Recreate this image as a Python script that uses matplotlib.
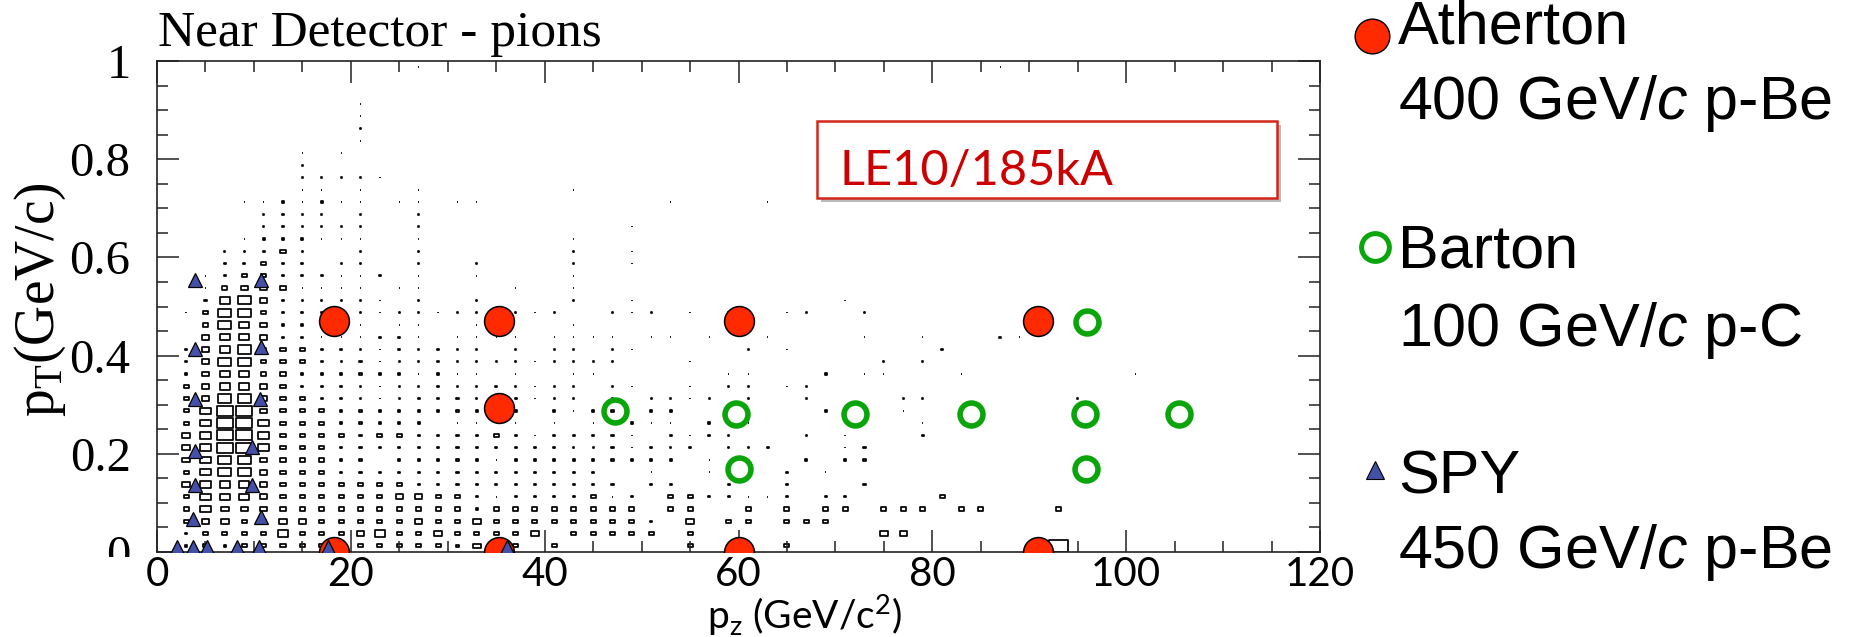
import matplotlib
matplotlib.use("Agg")
import matplotlib.pyplot as plt
import matplotlib.patheffects as pe
from matplotlib.collections import PatchCollection
from matplotlib.patches import Rectangle
from matplotlib.ticker import MultipleLocator, FuncFormatter
from matplotlib.transforms import Bbox, TransformedBbox

plt.rcParams["mathtext.fontset"] = "custom"
plt.rcParams["mathtext.rm"] = "Liberation Sans"
plt.rcParams["mathtext.it"] = "Liberation Sans:italic"

# 2D pion spectrum at the near detector, 2 GeV x 0.025 GeV/c bins.
# One character per bin, top row (pT 0.975-1.0) first; '.' = empty,
# digits = box size level (see box_side).
pz_bin = 2.0
pt_bin = 0.025
hist_rows = [
    "..........|...1......|..........|..........|...1......|..........",
    "..........|..........|..........|..........|..........|..........",
    "..........|..........|..........|..........|..........|..........",
    "..........|1.........|..........|..........|..........|..........",
    "..........|1.........|....1.....|..........|..........|..........",
    "..........|1.........|..........|..........|..........|..........",
    "..........|1.........|..........|..........|..........|..........",
    ".......1.1|..........|....1.....|..........|..........|..........",
    ".......1..|..........|..........|..........|..........|..........",
    ".......111|11........|..........|..........|..........|..........",
    ".......11.|1..1......|.1........|..........|..........|..........",
    "....112121|1111111..1|......1...|.11..1....|..........|..........",
    ".....1211.|1..1......|..........|..........|..........|..........",
    ".....12111|1..1......|....1.....|..........|..........|..........",
    "....122211|1..1......|.1........|..........|..........|..........",
    "...11231..|1..1......|.1..1.....|..........|..........|..........",
    "...22322.1|1..1..1...|.1..1.....|..........|..........|..........",
    "..12332221|12.1..1..1|.1........|.....1....|..........|..........",
    "..13443111|11111...1.|.1..1.....|..........|..........|..........",
    "..25642111|11.1..1...|.1..1.....|.....1....|..........|..........",
    ".136632222|1111111111|1..111.1.1|..11..1...|..........|..........",
    ".136542222|1111..1..1|.1..1.....|..1.......|..........|..........",
    ".145542211|1221111111|1111111.1.|.1....1..1|...21.....|..........",
    ".245633322|1121211.1.|11.11.....|1.1.......|2.........|..........",
    ".246633321|2111211111|1111...1..|.......1.1|..........|..........",
    ".245533222|2221211.1.|.11.1..1.1|1...2111..|.1........|1.........",
    ".345543222|1111211211|11.11..1.1|1.11......|..........|..........",
    ".346643322|1112221221|11.1.1111.|1..1....11|.......1..|..........",
    ".357743332|2222222221|2122.22...|..1.2...1.|1.........|..........",
    ".357753332|222211111.|1.1121112.|1........1|..........|..........",
    ".457753333|2332222321|22221.2121|...1.1...2|..........|..........",
    ".457753332|2222222222|21121212.1|12...12...|..........|..........",
    ".456643332|2122222122|2222222.1.|...2.22...|..........|..........",
    ".356643332|2222222222|222.11.11.|..2.11....|1.........|..........",
    ".455543333|3332222222|2222.22..2|..2...2...|..........|..........",
    ".355543333|3344332122|22312.3322|112.22....|3.........|..........",
    ".354443333|3333332333|33333.33..|3.3.33.333|.33...3...|..........",
    ".344334433|3334334333|333332.4.3|3.333.....|..........|..........",
    ".233335333|4533433334|.33333.3..|.......44.|..........|..........",
    ".232333333|333332433.|3......3..|..3.......|......9...|..........",
]
# box side as a fraction of the bin size for each level
box_side = {"1": 0.04, "2": 0.11, "3": 0.26, "4": 0.38, "5": 0.53,
            "6": 0.67, "7": 0.81, "9": 1.0}

# Atherton 400 GeV/c p-Be
atherton_pz = [18.3, 18.3, 35.3, 35.3, 35.3, 60.0, 60.0, 90.9, 90.9]
atherton_pt = [0.47, 0.0, 0.47, 0.294, 0.0, 0.47, 0.0, 0.47, 0.0]
# Barton 100 GeV/c p-C
barton_pz = [47.3, 59.7, 60.0, 72.0, 84.0, 96.0, 95.8, 95.9, 105.4]
barton_pt = [0.287, 0.282, 0.170, 0.282, 0.282, 0.469, 0.282, 0.170, 0.282]
# SPY 450 GeV/c p-Be
spy_pz = [3.95, 10.75, 3.95, 10.75, 3.95, 10.6, 3.95, 9.85, 3.95, 9.85,
          3.7, 10.75, 2.1, 3.7, 5.2, 8.3, 10.5, 17.6, 36.1]
spy_pt = [0.553, 0.553, 0.413, 0.418, 0.312, 0.312, 0.206, 0.213, 0.136,
          0.136, 0.067, 0.072, 0.011, 0.011, 0.011, 0.011, 0.011, 0.011, 0.011]

legend_names = ["Atherton", "Barton", "SPY"]
legend_beams = ["400 GeV/$\\mathit{c}$ p-Be", "100 GeV/$\\mathit{c}$ p-C",
                "450 GeV/$\\mathit{c}$ p-Be"]

W, H = 1850, 637
fig = plt.figure(figsize=(W / 100, H / 100), dpi=100)
ax = fig.add_axes([157 / W, 85 / H, 1163 / W, 491 / H])
ax.set_xlim(0, 120)
ax.set_ylim(0, 1)

# box histogram
boxes = []
nrows = len(hist_rows)
for r, row in enumerate(hist_rows):
    row = row.replace("|", "")
    j = nrows - 1 - r
    for i, ch in enumerate(row):
        if ch == ".":
            continue
        f = box_side[ch]
        w, h = f * pz_bin, f * pt_bin
        xc, yc = (i + 0.5) * pz_bin, (j + 0.5) * pt_bin
        boxes.append(Rectangle((xc - w / 2, yc - h / 2), w, h))
ax.add_collection(PatchCollection(boxes, facecolor="none", edgecolor="black",
                                  linewidth=1.25, zorder=1))

red = "#ff2a00"
green = "#0aa50a"
blue = "#4450a8"
ax.plot(atherton_pz, atherton_pt, "o", ms=21.5, mfc=red, mec="black", mew=1.1, zorder=3)
ax.plot(barton_pz, barton_pt, "o", ms=16.5, mfc="none", mec=green, mew=4.0, zorder=4)
ax.plot(spy_pz, spy_pt, "^", ms=10.5, mfc=blue, mec="black", mew=0.9, zorder=5)

# ROOT-like frame
ax.xaxis.set_major_locator(MultipleLocator(20))
ax.xaxis.set_minor_locator(MultipleLocator(5))
ax.yaxis.set_major_locator(MultipleLocator(0.2))
ax.yaxis.set_minor_locator(MultipleLocator(0.05))
ax.yaxis.set_major_formatter(FuncFormatter(
    lambda v, p: "1" if abs(v - 1) < 1e-9 else ("0" if abs(v) < 1e-9 else f"{v:.1f}")))
ax.tick_params(which="both", direction="in", top=True, right=True, width=1.1,
               color="#222222")
ax.tick_params(which="major", length=15.5)
ax.tick_params(which="minor", length=8)
ax.tick_params(axis="x", pad=3, labelsize=29)
ax.tick_params(axis="y", pad=19, labelsize=35)
for lab in ax.get_xticklabels():
    lab.set_family("Lato")
for lab in ax.get_yticklabels():
    lab.set_family("Liberation Serif")
for s in ax.spines.values():
    s.set_linewidth(1.2)
    s.set_color("#222222")

# the lowest y label is cut by the x-axis caption strip
clip = TransformedBbox(Bbox([[0, 80 / H], [1, 1]]), fig.transFigure)
for t in ax.yaxis.get_major_ticks():
    t.label1.set_clip_box(clip)
    t.label1.set_clip_on(True)

# overlay in pixel coordinates for titles, annotation and legend
ov = fig.add_axes([0, 0, 1, 1], zorder=5)
ov.set_xlim(0, W)
ov.set_ylim(H, 0)
ov.axis("off")

ov.text(158, 46, "Near Detector - pions", family="Liberation Serif", fontsize=37,
        va="baseline", ha="left")
ov.text(40, 300, "p$_\\mathregular{T}$(GeV/c)", family="Liberation Serif",
        fontsize=40, rotation=90, ha="center", va="center")
ov.text(805, 630, "p$_\\mathregular{z}$ (GeV/c$^\\mathregular{2}$)", family="Lato",
        fontsize=28, ha="center", va="baseline")

box = Rectangle((817, 121), 460, 77, facecolor="white", edgecolor="#d3261a",
                linewidth=1.8, zorder=2,
                path_effects=[pe.SimplePatchShadow(offset=(3, -3), shadow_rgbFace="#666666",
                                                   alpha=0.45), pe.Normal()])
ov.add_patch(box)
ov.text(840, 185, "LE10/185kA", family="Lato", fontsize=35, color="#cc0000",
        va="baseline", ha="left", zorder=3)

# legend
name_base = [43, 268, 494]
beam_base = [119, 346, 568]
ov.plot([1372], [36], "o", ms=25, mfc=red, mec="black", mew=1.0, clip_on=False)
ov.plot([1375], [247], "o", ms=20, mfc="none", mec=green, mew=3.6, clip_on=False)
ov.plot([1375], [470], "^", ms=13, mfc=blue, mec="black", mew=0.8, clip_on=False)
for name, beam, yn, yb in zip(legend_names, legend_beams, name_base, beam_base):
    ov.text(1398, yn, name, family="Liberation Sans", fontsize=44, va="baseline", ha="left")
    ov.text(1398, yb, beam, family="Liberation Sans", fontsize=44, va="baseline", ha="left")

fig.savefig("out.png", dpi=100)
